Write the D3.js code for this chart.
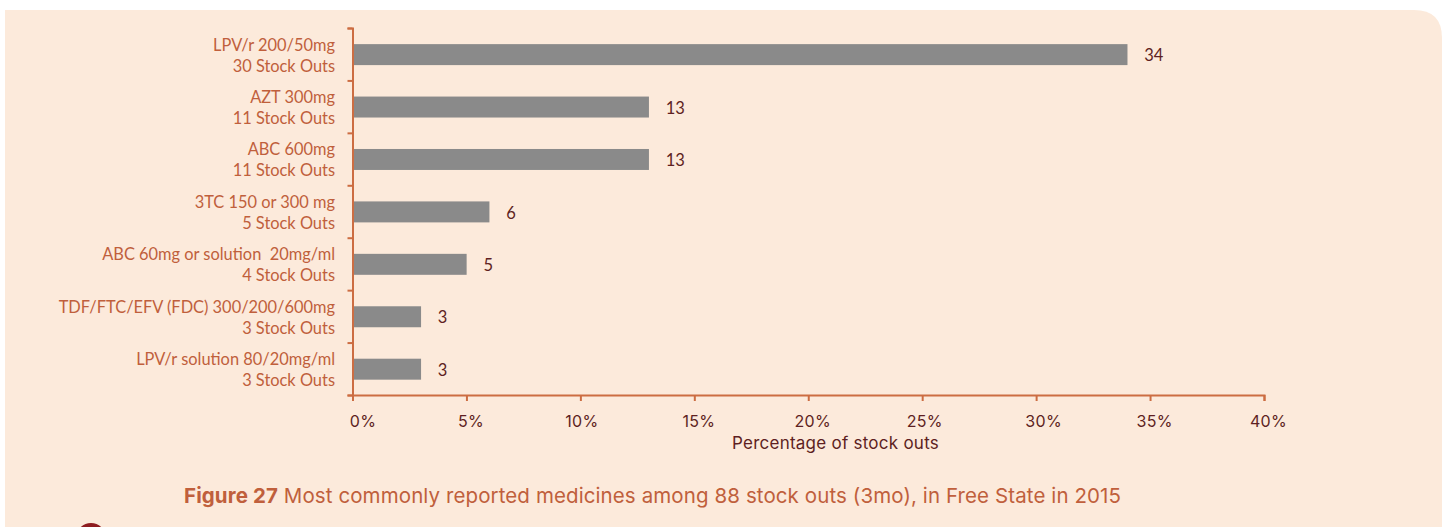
<!DOCTYPE html>
<html><head><meta charset="utf-8">
<script src="https://cdn.jsdelivr.net/npm/d3@7/dist/d3.min.js"></script>
<style>html,body{margin:0;padding:0;background:#fff}svg{display:block}</style>
</head><body><svg id="c" width="1447" height="527"></svg>
<script>
const medicines = ["LPV/r 200/50mg","AZT 300mg","ABC 600mg","3TC 150 or 300 mg","ABC 60mg or solution  20mg/ml","TDF/FTC/EFV (FDC) 300/200/600mg","LPV/r solution 80/20mg/ml"];
const stockOuts = [30,11,11,5,4,3,3];
const percents = [34,13,13,6,5,3,3];
const xTicks = [0,5,10,15,20,25,30,35,40];
const xTitle = "Percentage of stock outs";
const captionBold = "Figure 27";
const captionRest = " Most commonly reported medicines among 88 stock outs (3mo), in Free State in 2015";

const svg = d3.select("#c");
const axisCol="#cc6d42", textLab="#c05f3c", dark="#5e1f22", bg="#fceadb", bar="#8a8a8a";
svg.append("path").attr("fill",bg).attr("d","M5 10H1414Q1442 10 1442 38V527H5Z");
svg.append("circle").attr("cx",91).attr("cy",538).attr("r",15).attr("fill","#8e1c20");

const x=d3.scaleLinear().domain([0,40]).range([352.5,1264]);
const y=d3.scaleBand().domain(medicines).range([28.4,395.4]).paddingInner(0.6).paddingOuter(0.3);
const yEdge=d3.scaleLinear().domain([0,medicines.length]).range([28,395]);

svg.selectAll("rect.b").data(medicines).join("rect").attr("class","b")
  .attr("x",x(0)).attr("y",d=>y(d)).attr("height",y.bandwidth())
  .attr("width",(d,i)=>x(percents[i])-x(0)+0.2).attr("fill",bar);

const gx=svg.append("g").attr("transform","translate(0,395)")
  .call(d3.axisBottom(x).tickValues(xTicks).tickFormat(d=>d+"%").tickSize(6).tickPadding(15));
gx.selectAll("path,line").attr("stroke",axisCol).attr("stroke-width",2);
const tickShift=v=>v===0?10:v===10?1:v===25?2:v===30?7:4;
gx.selectAll("text").attr("dx",d=>tickShift(d)).attr("fill",dark).style("font-family","Inter").style("font-size","16px").style("letter-spacing","0.3px");

const gy=svg.append("g").attr("transform","translate(352.5,0)")
  .call(d3.axisLeft(yEdge).tickValues(d3.range(medicines.length+1)).tickFormat("").tickSize(5));
gy.selectAll("path,line").attr("stroke",axisCol).attr("stroke-width",2);

const lab=svg.append("g").style("font-family","Lato").style("font-size","16.4px").attr("fill",textLab).attr("text-anchor","end");
medicines.forEach((m,i)=>{
  const cy=y(m)+y.bandwidth()/2;
  lab.append("text").attr("xml:space","preserve").attr("x",335).attr("y",cy-4).text(m);
  lab.append("text").attr("x",335).attr("y",cy+17).text(stockOuts[i]+" Stock Outs");
});

svg.append("g").selectAll("text").data(percents).join("text")
  .attr("x",d=>x(d)+17).attr("y",(d,i)=>y(medicines[i])+y.bandwidth()/2+6.7)
  .attr("fill",dark).style("font-family","Lato").style("font-size","16.5px").text(d=>d);

svg.append("text").attr("x",835.5).attr("y",449).attr("text-anchor","middle").attr("fill",dark)
  .style("font-family","Inter").style("font-size","17px").style("letter-spacing","0.25px").text(xTitle);

const cap=svg.append("text").attr("x",184).attr("y",503).attr("fill",textLab)
  .style("font-family","Inter").style("font-size","20.5px").style("letter-spacing","0.1px");
cap.append("tspan").attr("font-weight",700).text(captionBold);
cap.append("tspan").text(captionRest);
</script></body></html>
